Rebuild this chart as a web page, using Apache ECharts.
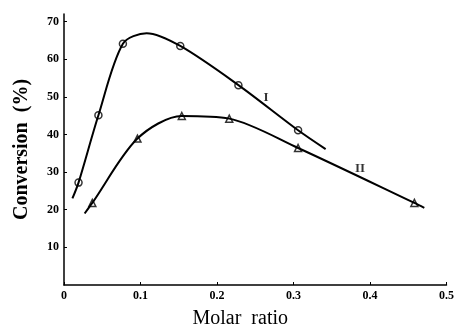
<!DOCTYPE html>
<html>
<head>
<meta charset="utf-8">
<script src="https://cdn.jsdelivr.net/npm/echarts@6/dist/echarts.min.js"></script>
<style>
  html, body { margin: 0; padding: 0; background: #fff; }
  #chart { width: 457px; height: 336px; }
</style>
</head>
<body>
<div id="chart"></div>
<script>
// curve I (circles): traced line and measured points
const curveI = [[0.011, 23.0], [0.019, 27.2], [0.045, 45.1], [0.077, 64.1], [0.108, 66.9], [0.152, 63.5], [0.228, 53.1], [0.306, 41.1], [0.342, 36.1]]
const pointsI = [[0.019, 27.2], [0.045, 45.1], [0.077, 64.1], [0.152, 63.5], [0.228, 53.1], [0.306, 41.1]]

// curve II (triangles)
const curveII = [[0.027, 19.0], [0.037, 21.8], [0.096, 38.9], [0.154, 44.9], [0.216, 44.2], [0.306, 36.4], [0.458, 21.8], [0.471, 20.5]]
const pointsII = [[0.037, 21.8], [0.096, 38.9], [0.154, 44.9], [0.216, 44.2], [0.306, 36.4], [0.458, 21.8]]

// curve labels
const curveLabels = [['I', 0.264, 49.9], ['II', 0.387, 31.0]]

const xTicks = [0, 0.1, 0.2, 0.3, 0.4, 0.5]
const yTicks = [10, 20, 30, 40, 50, 60, 70]

const font = 'Liberation Serif'
const myEcharts = echarts.init(document.getElementById('chart'))
myEcharts.setOption({
  animation: false,
  grid: { left: 64, right: 8, top: 14, bottom: 51 },
  xAxis: {
    type: 'value',
    min: 0,
    max: 0.5,
    interval: 0.1,
    name: 'Molar  ratio',
    nameLocation: 'middle',
    nameGap: 24,
    nameTextStyle: { fontFamily: font, fontSize: 20, color: '#000', padding: [0, 30, 0, 0] },
    axisLine: { lineStyle: { color: '#000', width: 1.5 } },
    axisTick: { inside: true, length: 3, lineStyle: { color: '#000' } },
    axisLabel: {
      margin: 5,
      fontFamily: font,
      fontWeight: 'bold',
      fontSize: 12,
      color: '#000',
      customValues: xTicks,
      formatter: v => (v === 0 ? '0' : v.toFixed(1))
    },
    splitLine: { show: false }
  },
  yAxis: {
    type: 'value',
    min: 0,
    max: 72,
    name: 'Conversion  (%)',
    nameLocation: 'middle',
    nameGap: 32,
    nameTextStyle: { fontFamily: font, fontWeight: 'bold', fontSize: 20, color: '#000' },
    axisLine: { show: true, lineStyle: { color: '#000', width: 1.5 } },
    axisTick: { show: true, inside: true, length: 3, customValues: yTicks, lineStyle: { color: '#000' } },
    axisLabel: {
      margin: 5,
      fontFamily: font,
      fontWeight: 'bold',
      fontSize: 12,
      color: '#000',
      customValues: yTicks
    },
    splitLine: { show: false }
  },
  series: [
    {
      name: 'I',
      type: 'line',
      data: curveI,
      smooth: 0.3,
      showSymbol: false,
      lineStyle: { color: '#000', width: 2 }
    },
    {
      name: 'II',
      type: 'line',
      data: curveII,
      smooth: 0.3,
      showSymbol: false,
      lineStyle: { color: '#000', width: 2 }
    },
    {
      type: 'scatter',
      data: pointsI,
      symbol: 'circle',
      symbolSize: 7,
      itemStyle: { color: '#fff', borderColor: '#000', borderWidth: 1.5 }
    },
    {
      type: 'scatter',
      data: pointsII,
      symbol: 'triangle',
      symbolSize: 7,
      itemStyle: { color: '#fff', borderColor: '#000', borderWidth: 1.5 }
    },
    {
      type: 'scatter',
      data: curveLabels.map(d => ({ name: d[0], value: [d[1], d[2]] })),
      symbolSize: 0,
      label: {
        show: true,
        position: 'inside',
        formatter: '{b}',
        fontFamily: font,
        fontWeight: 'bold',
        fontSize: 13,
        color: '#000'
      }
    }
  ]
})
</script>
</body>
</html>
